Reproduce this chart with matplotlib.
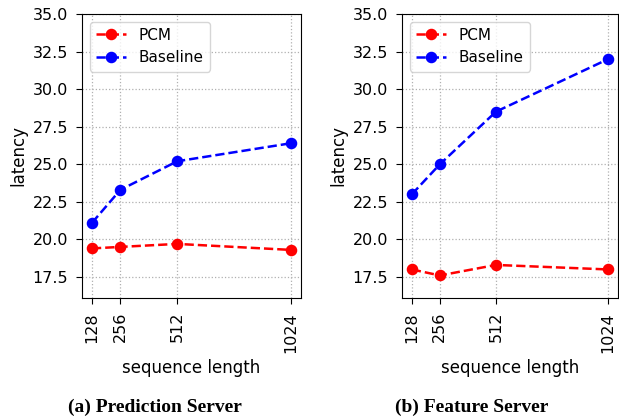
import matplotlib
matplotlib.use("Agg")
import matplotlib.pyplot as plt

seq_len = [128, 256, 512, 1024]
tick_labels = ["128", "256", "512", "1024"]
pred_pcm = [19.4, 19.5, 19.7, 19.3]
pred_base = [21.1, 23.3, 25.2, 26.4]
feat_pcm = [18.0, 17.6, 18.3, 18.0]
feat_base = [23.0, 25.0, 28.5, 32.0]
captions = ["(a) Prediction Server", "(b) Feature Server"]

fig = plt.figure(figsize=(6.19, 4.19), dpi=100)
ax1 = fig.add_axes([82/619, 121/419, 219/619, 284/419])
ax2 = fig.add_axes([402/619, 121/419, 216/619, 284/419])

for ax, pcm, base in [(ax1, pred_pcm, pred_base), (ax2, feat_pcm, feat_base)]:
    ax.plot(seq_len, pcm, "--o", color="red", label="PCM", markersize=7.3, linewidth=1.8)
    ax.plot(seq_len, base, "--o", color="blue", label="Baseline", markersize=7.3, linewidth=1.8)
    ax.set_xticks(seq_len)
    ax.set_xticklabels(tick_labels, rotation=90, fontsize=11.5)
    ax.set_ylim(16.1, 35.0)
    ax.set_yticks([17.5, 20.0, 22.5, 25.0, 27.5, 30.0, 32.5, 35.0])
    ax.tick_params(axis="y", labelsize=11.5)
    ax.tick_params(axis="both", length=4.5, pad=5.5)
    ax.grid(True, linestyle=":", color="#b0b0b0", linewidth=0.9)
    ax.set_xlabel("sequence length", fontsize=12, labelpad=5)
    ax.set_ylabel("latency", fontsize=12, labelpad=3.5)
    ax.legend(loc="upper left", fontsize=11)

fig.text(155/619, 1 - 407/419, captions[0], ha="center", va="center",
         fontsize=14, fontweight="bold", family="Liberation Serif")
fig.text(472/619, 1 - 407/419, captions[1], ha="center", va="center",
         fontsize=14, fontweight="bold", family="Liberation Serif")

fig.savefig("out.png", dpi=100)
